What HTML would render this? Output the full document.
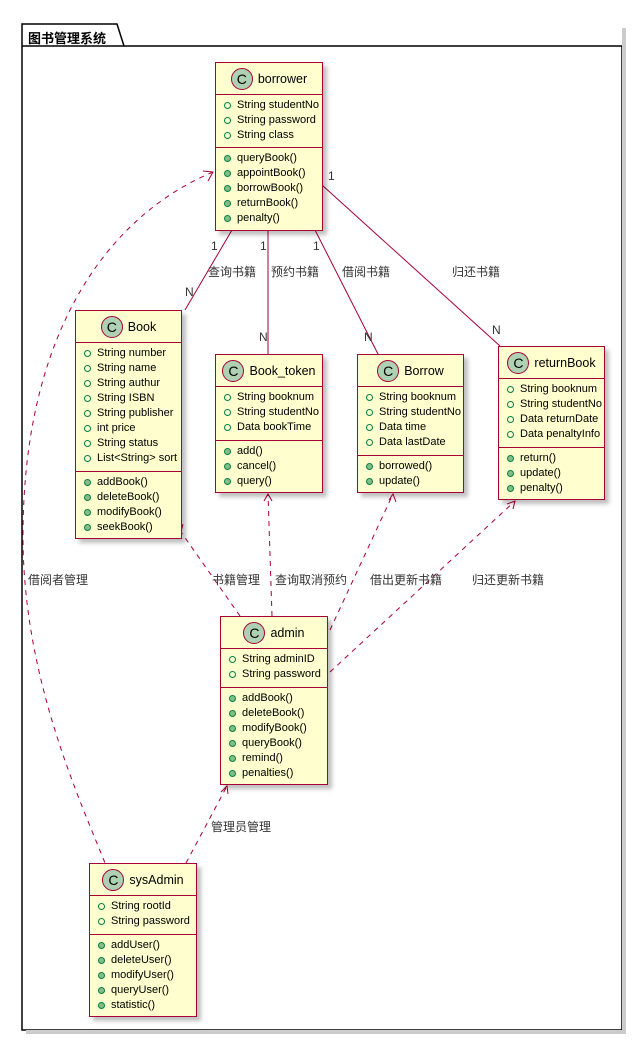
<!DOCTYPE html>
<html><head><meta charset="utf-8"><style>
body{margin:0;width:641px;height:1043px;background:#fff;position:relative;overflow:hidden;font-family:"Liberation Sans","Noto Sans CJK SC",sans-serif;}
.c{position:absolute;background:#FEFECE;border:1.5px solid #A80036;box-sizing:border-box;box-shadow:4px 4px 4px rgba(0,0,0,0.25);font-size:11px;color:#000}
.h{height:32px;border-bottom:1.5px solid #A80036;display:flex;align-items:center;justify-content:center;font-size:12.5px;box-sizing:border-box}
.ci{width:22px;height:22px;border-radius:50%;background:#ADD1B2;border:1px solid #A80036;box-sizing:border-box;display:inline-flex;align-items:center;justify-content:center;font-size:14px;margin-right:5px;font-weight:normal}
.s{padding:3px 0 4px 8px;box-sizing:border-box}
.s+.s{border-top:1.5px solid #A80036}
.r{height:15px;line-height:15px;white-space:nowrap;position:relative;padding-left:13px}
.r:before{content:"";position:absolute;left:0;top:4px;width:7px;height:7px;border-radius:50%;border:1px solid #038048;box-sizing:border-box}
.m .r:before{background:#84BE84;border-color:#038048}
.lb{position:absolute;font-size:12px;color:#333;white-space:nowrap}
</style></head><body>
<svg width="641" height="1043" style="position:absolute;left:0;top:0">
<path d="M22,24 L117,24 L124,46 L622,46 L622,1030 L22,1030 Z" fill="#fff" stroke="#000" stroke-width="1.5"/>
<line x1="22" y1="46" x2="124" y2="46" stroke="#000" stroke-width="1.5"/>
<rect x="26" y="1030" width="600" height="4" fill="#ccc"/>
<rect x="622" y="28" width="4" height="1006" fill="#ccc"/>
<g stroke="#A80036" stroke-width="1" fill="none">
<line x1="232" y1="230" x2="185" y2="310"/>
<line x1="268" y1="230" x2="268" y2="354"/>
<line x1="315" y1="230" x2="378" y2="354"/>
<line x1="322" y1="185" x2="500" y2="346"/>
<g stroke-dasharray="5,5">
<line x1="240" y1="616" x2="181" y2="532"/>
<line x1="272" y1="616" x2="268" y2="494"/>
<line x1="330" y1="630" x2="393" y2="494"/>
<line x1="330" y1="672" x2="515" y2="501"/>
<line x1="186" y1="863" x2="227" y2="786"/>
<path d="M213,172 C110,215 22,330 23,540 C24,680 80,800 105,863"/>
</g>
<path d="M175,528 L181,532 L183,524"/>
<path d="M264,501 L268,494 L272,501"/>
<path d="M389,500 L393,494 L396,502"/>
<path d="M507,504 L515,501 L513,509"/>
<path d="M221,792 L227,786 L228,794"/>
<path d="M203,171 L213,172 L208,181"/>
</g>
</svg>
<div class="lb" style="left:28px;top:28px;font-size:13px;color:#000;font-weight:bold">图书管理系统</div>

<div class="c" style="left:215px;top:62px;width:108px;height:169px"><div class="h"><span class="ci">C</span>borrower</div>
<div class="s" style="height:52px"><div class="r">String studentNo</div><div class="r">String password</div><div class="r">String class</div></div>
<div class="s m"><div class="r">queryBook()</div><div class="r">appointBook()</div><div class="r">borrowBook()</div><div class="r">returnBook()</div><div class="r">penalty()</div></div></div>

<div class="c" style="left:75px;top:310px;width:107px;height:229px"><div class="h"><span class="ci">C</span>Book</div>
<div class="s" style="height:128px"><div class="r">String number</div><div class="r">String name</div><div class="r">String authur</div><div class="r">String ISBN</div><div class="r">String publisher</div><div class="r">int price</div><div class="r">String status</div><div class="r">List&lt;String&gt; sort</div></div>
<div class="s m"><div class="r">addBook()</div><div class="r">deleteBook()</div><div class="r">modifyBook()</div><div class="r">seekBook()</div></div></div>

<div class="c" style="left:215px;top:354px;width:108px;height:139px"><div class="h"><span class="ci">C</span>Book_token</div>
<div class="s" style="height:53px"><div class="r">String booknum</div><div class="r">String studentNo</div><div class="r">Data bookTime</div></div>
<div class="s m"><div class="r">add()</div><div class="r">cancel()</div><div class="r">query()</div></div></div>

<div class="c" style="left:357px;top:354px;width:107px;height:139px"><div class="h"><span class="ci">C</span>Borrow</div>
<div class="s" style="height:68px"><div class="r">String booknum</div><div class="r">String studentNo</div><div class="r">Data time</div><div class="r">Data lastDate</div></div>
<div class="s m"><div class="r">borrowed()</div><div class="r">update()</div></div></div>

<div class="c" style="left:498px;top:346px;width:107px;height:154px"><div class="h"><span class="ci">C</span>returnBook</div>
<div class="s" style="height:68px"><div class="r">String booknum</div><div class="r">String studentNo</div><div class="r">Data returnDate</div><div class="r">Data penaltyInfo</div></div>
<div class="s m"><div class="r">return()</div><div class="r">update()</div><div class="r">penalty()</div></div></div>

<div class="c" style="left:220px;top:616px;width:108px;height:169px"><div class="h"><span class="ci">C</span>admin</div>
<div class="s" style="height:38px"><div class="r">String adminID</div><div class="r">String password</div></div>
<div class="s m"><div class="r">addBook()</div><div class="r">deleteBook()</div><div class="r">modifyBook()</div><div class="r">queryBook()</div><div class="r">remind()</div><div class="r">penalties()</div></div></div>

<div class="c" style="left:89px;top:863px;width:108px;height:154px"><div class="h"><span class="ci">C</span>sysAdmin</div>
<div class="s" style="height:38px"><div class="r">String rootId</div><div class="r">String password</div></div>
<div class="s m"><div class="r">addUser()</div><div class="r">deleteUser()</div><div class="r">modifyUser()</div><div class="r">queryUser()</div><div class="r">statistic()</div></div></div>

<div class="lb" style="left:211px;top:239px">1</div>
<div class="lb" style="left:185px;top:285px">N</div>
<div class="lb" style="left:208px;top:263px">查询书籍</div>
<div class="lb" style="left:260px;top:239px">1</div>
<div class="lb" style="left:259px;top:330px">N</div>
<div class="lb" style="left:271px;top:263px">预约书籍</div>
<div class="lb" style="left:313px;top:239px">1</div>
<div class="lb" style="left:364px;top:330px">N</div>
<div class="lb" style="left:342px;top:263px">借阅书籍</div>
<div class="lb" style="left:328px;top:169px">1</div>
<div class="lb" style="left:492px;top:323px">N</div>
<div class="lb" style="left:452px;top:263px">归还书籍</div>
<div class="lb" style="left:28px;top:571px">借阅者管理</div>
<div class="lb" style="left:212px;top:571px">书籍管理</div>
<div class="lb" style="left:275px;top:571px">查询取消预约</div>
<div class="lb" style="left:370px;top:571px">借出更新书籍</div>
<div class="lb" style="left:472px;top:571px">归还更新书籍</div>
<div class="lb" style="left:211px;top:818px">管理员管理</div>
</body></html>
